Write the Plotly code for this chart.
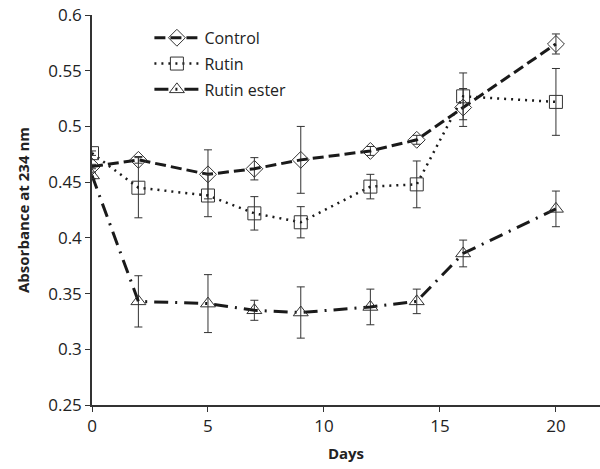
import plotly.graph_objects as go

days = [0, 2, 5, 7, 9, 12, 14, 16, 20]
control = [0.464, 0.470, 0.457, 0.462, 0.470, 0.478, 0.488, 0.517, 0.574]
control_err = [0.002, 0.003, 0.022, 0.010, 0.030, 0.004, 0.004, 0.017, 0.009]
rutin = [0.476, 0.445, 0.438, 0.422, 0.414, 0.446, 0.448, 0.527, 0.522]
rutin_err = [0.002, 0.027, 0.019, 0.015, 0.014, 0.011, 0.021, 0.021, 0.030]
ester = [0.456, 0.343, 0.341, 0.335, 0.333, 0.338, 0.343, 0.386, 0.426]
ester_err = [0.003, 0.023, 0.026, 0.009, 0.023, 0.016, 0.011, 0.012, 0.016]

yticks = [0.25, 0.3, 0.35, 0.4, 0.45, 0.5, 0.55, 0.6]
yticktext = ["0.25", "0.3", "0.35", "0.4", "0.45", "0.5", "0.55", "0.6"]
xticks = [0, 5, 10, 15, 20]

fig = go.Figure()

def add(name, y, err, symbol, dash, width):
    fig.add_trace(go.Scatter(
        x=days, y=y, name=name, mode="lines+markers", legendgroup=name,
        line=dict(color="#1a1a1a", width=width, dash=dash),
        marker=dict(symbol=symbol, size=13, color="rgba(255,255,255,0)",
                    line=dict(color="#333333", width=1)),
        error_y=dict(type="data", array=err, visible=True,
                     color="#333333", thickness=1, width=4),
    ))

add("Control", control, control_err, "diamond", "11px,5px", 3)
add("Rutin", rutin, rutin_err, "square", "2px,5px", 2.5)
add("Rutin ester", ester, ester_err, "triangle-up", "14px,7px,2px,7px", 3)

font = "Open Sans, Liberation Sans, sans-serif"
fig.update_layout(
    width=600, height=469,
    margin=dict(l=92, r=0, t=15, b=64),
    paper_bgcolor="white", plot_bgcolor="white",
    font=dict(family=font, size=17, color="#222222"),
    showlegend=True,
    legend=dict(x=0.113, y=0.985, xanchor="left", yanchor="top",
                bgcolor="rgba(0,0,0,0)", font=dict(size=16),
                itemwidth=45, tracegroupgap=2, traceorder="grouped"),
    xaxis=dict(range=[0, 21.9], tickvals=xticks, showgrid=False, zeroline=False,
               showline=True, linecolor="#333333", linewidth=1.5,
               ticks="outside", ticklen=5, tickcolor="#333333",
               title=dict(text="<b>Days</b>", font=dict(size=15), standoff=12)),
    yaxis=dict(range=[0.25, 0.6], tickvals=yticks, ticktext=yticktext,
               showgrid=False, zeroline=False,
               showline=True, linecolor="#333333", linewidth=1.5,
               ticks="outside", ticklen=5, tickcolor="#333333",
               title=dict(text="<b>Absorbance at 234 nm</b>", font=dict(size=15), standoff=15)),
)

fig.write_html("out.html")
